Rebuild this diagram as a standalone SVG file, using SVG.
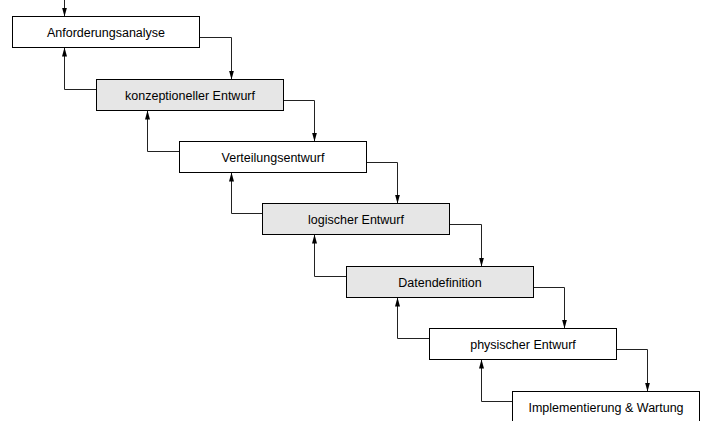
<svg xmlns="http://www.w3.org/2000/svg" width="728" height="421" viewBox="0 0 728 421">
<style>
.box{stroke:#000;stroke-width:1}
.w{fill:#fff}
.g{fill:#e6e6e6}
.t{font-family:"Liberation Sans",Arial,sans-serif;font-size:12.5px;fill:#000;text-anchor:middle}
.c{fill:none;stroke:#222;stroke-width:1}
</style>
<defs>
<marker id="ah" markerUnits="userSpaceOnUse" markerWidth="10" markerHeight="10" viewBox="0 0 10 10" refX="9" refY="5" orient="auto">
<path d="M0,2.5 L9,5 L0,7.5 Z" fill="#000"/>
</marker>
</defs>
<rect width="728" height="421" fill="#fff"/>
<g id="connectors">
<path class="c" d="M64.5,0 V16.5" marker-end="url(#ah)"/>
<path class="c" d="M199.5,37.5 H231.5 V79.5" marker-end="url(#ah)"/>
<path class="c" d="M283.5,100.5 H314.5 V141.5" marker-end="url(#ah)"/>
<path class="c" d="M366.5,162.5 H397.5 V203.5" marker-end="url(#ah)"/>
<path class="c" d="M449.5,224.5 H481.5 V266.5" marker-end="url(#ah)"/>
<path class="c" d="M533.5,287.5 H564.5 V328.5" marker-end="url(#ah)"/>
<path class="c" d="M616.5,349.5 H647.5 V391.5" marker-end="url(#ah)"/>
<path class="c" d="M96.5,89.5 H64.5 V47.5" marker-end="url(#ah)"/>
<path class="c" d="M179.5,151.5 H147.5 V110.5" marker-end="url(#ah)"/>
<path class="c" d="M262.5,213.5 H231.5 V172.5" marker-end="url(#ah)"/>
<path class="c" d="M346.5,276.5 H314.5 V234.5" marker-end="url(#ah)"/>
<path class="c" d="M429.5,338.5 H397.5 V297.5" marker-end="url(#ah)"/>
<path class="c" d="M512.5,401.5 H481.5 V359.5" marker-end="url(#ah)"/>
</g>
<g id="n1"><rect class="box w" x="12.5" y="16.5" width="187" height="31"/><text class="t" x="106" y="37">Anforderungsanalyse</text></g>
<g id="n2"><rect class="box g" x="96.5" y="79.5" width="187" height="31"/><text class="t" x="190" y="100">konzeptioneller Entwurf</text></g>
<g id="n3"><rect class="box w" x="179.5" y="141.5" width="187" height="31"/><text class="t" x="273" y="162">Verteilungsentwurf</text></g>
<g id="n4"><rect class="box g" x="262.5" y="203.5" width="187" height="31"/><text class="t" x="356" y="224">logischer Entwurf</text></g>
<g id="n5"><rect class="box g" x="346.5" y="266.5" width="187" height="31"/><text class="t" x="440" y="287">Datendefinition</text></g>
<g id="n6"><rect class="box w" x="429.5" y="328.5" width="187" height="31"/><text class="t" x="523" y="349">physischer Entwurf</text></g>
<g id="n7"><rect class="box w" x="512.5" y="391.5" width="187" height="31"/><text class="t" x="606" y="412">Implementierung &amp; Wartung</text></g>
</svg>
